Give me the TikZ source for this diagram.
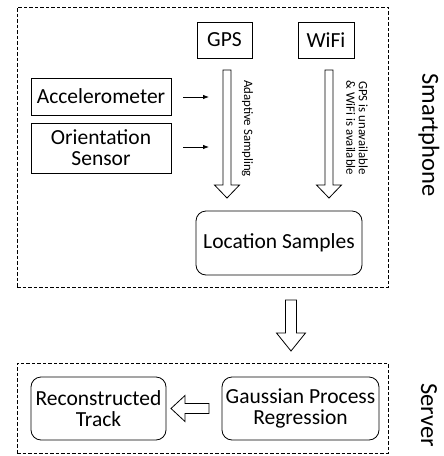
\documentclass[tikz,border=0pt]{standalone}
\usepackage{fontspec}
\setmainfont{Carlito}
\usetikzlibrary{arrows.meta,calc}
\tikzset{
  box/.style={draw, line width=0.8pt, inner sep=0pt, font=\fontsize{21.5}{24}\selectfont},
  rbox/.style={box, rounded corners=10pt, align=center},
  group/.style={draw, line width=0.7pt, dash pattern=on 3.5pt off 2pt},
  blockarrow/.style={draw, line width=0.8pt, fill=white, line join=miter},
  smallarrow/.style={line width=0.8pt, -{Latex[length=6pt,width=4.5pt]}},
  sidelabel/.style={rotate=-90, font=\fontsize{24.5}{28}\selectfont},
  arrowlabel/.style={rotate=-90, align=center, font=\fontsize{12.8}{13.5}\selectfont, inner sep=0pt}
}
\begin{document}
\begin{tikzpicture}[x=1pt,y=-1pt]
\useasboundingbox (0,0) rectangle (444,456);
% groups
\node[group, minimum width=371pt, minimum height=280pt, inner sep=0pt] (phone) at (202.5,147) {};
\node[group, minimum width=371pt, minimum height=90pt, inner sep=0pt] (server) at (202.5,408) {};
% boxes
\node[box, minimum width=55pt, minimum height=36pt] (gps) at (224.5,40) {GPS};
\node[box, minimum width=56pt, minimum height=36pt] (wifi) at (326,40) {WiFi};
\node[box, minimum width=140pt, minimum height=37pt] (acc) at (101,96.5) {Accelerometer};
\node[box, minimum width=140pt, minimum height=50pt, align=center] (ori) at (101,148) {Orientation\\[-3pt]Sensor};
\node[rbox, minimum width=166pt, minimum height=64pt] (loc) at (279,243) {Location Samples};
\node[rbox, minimum width=135pt, minimum height=63pt] (rec) at (98.5,408.5) {Reconstructed\\[-3pt]Track};
\node[rbox, minimum width=157pt, minimum height=63pt] (gpr) at (300.5,408.5) {Gaussian Process\\[-3pt]Regression};
% side labels
\node[sidelabel] (lphone) at (429,135) {Smartphone};
\node[sidelabel] (lserver) at (429,415) {Server};
% small arrows
\coordinate (a1) at (183,97);
\coordinate (a1e) at (209,97);
\coordinate (a2) at (183,147);
\coordinate (a2e) at (209,147);
\draw[smallarrow] (a1) -- (a1e);
\draw[smallarrow] (a2) -- (a2e);
% block arrows down (GPS, WiFi)
\draw[blockarrow] (223,70) -- (231,70) -- (231,185) -- (239.5,185) -- (227,198) -- (214.5,185) -- (223,185) -- cycle;
\draw[blockarrow] (325,70) -- (333,70) -- (333,185) -- (341.5,185) -- (329,198) -- (316.5,185) -- (325,185) -- cycle;
% middle arrow
\draw[blockarrow] (285.5,300) -- (296.5,300) -- (296.5,333) -- (305.5,333) -- (291,351) -- (276.5,333) -- (285.5,333) -- cycle;
% left arrow
\draw[blockarrow] (209,403.5) -- (209,413.5) -- (185,413.5) -- (185,421.5) -- (171,408.5) -- (185,395.5) -- (185,403.5) -- cycle;
% arrow labels
\node[arrowlabel] (lad) at (247.5,128.5) {Adaptive Sampling};
\node[arrowlabel] (lwifi) at (357,128) {GPS is unavailable\\[-1pt]\& WiFi is available};
\end{tikzpicture}
\end{document}
